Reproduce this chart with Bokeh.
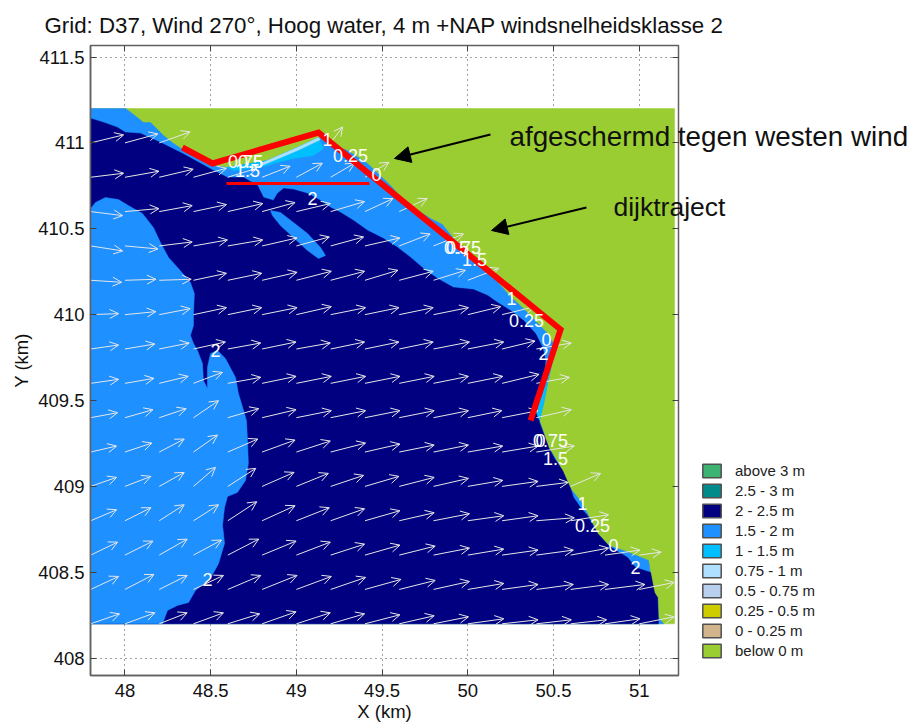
from bokeh.plotting import figure
from bokeh.embed import file_html
from bokeh.resources import INLINE
from bokeh.core.properties import value
from bokeh.layouts import column
from bokeh.models import (Range1d, FixedTicker, LinearAxis, Legend, LegendItem, Label, Arrow,
                          OpenHead, NormalHead, ColumnDataSource, Title)

FONT = "Liberation Sans"
_ = None
NAN = float("nan")

title_text = "Grid: D37, Wind 270°, Hoog water, 4 m +NAP windsnelheidsklasse 2"
x_ticks = [48, 48.5, 49, 49.5, 50, 50.5, 51]
x_tick_labels = ["48", "48.5", "49", "49.5", "50", "50.5", "51"]
y_ticks = [408, 408.5, 409, 409.5, 410, 410.5, 411, 411.5]
y_tick_labels = ["408", "408.5", "409", "409.5", "410", "410.5", "411", "411.5"]

class_labels = ["above 3 m", "2.5 - 3 m", "2 - 2.5 m", "1.5 - 2 m", "1 - 1.5 m",
                "0.75 - 1 m", "0.5 - 0.75 m", "0.25 - 0.5 m", "0 - 0.25 m", "below 0 m"]
class_colors = ["#3CB371", "#008B8B", "#000080", "#1E90FF", "#00BFFF",
                "#B0E0FF", "#B8CFEE", "#CCCC00", "#D2B48C", "#9ACD32"]

land_x = [47.8, 51.206, 51.206, 47.8]
land_y = [411.2, 411.2, 408.2, 408.2]

coast_x = [48.003, 48.050, 48.108, 48.149, 48.225, 48.283, 48.336, 48.511, 48.598, 48.831, 49.006, 49.129,
           49.216, 49.298, 49.415, 49.549, 49.637, 49.782, 49.852, 49.917, 50.132, 50.232, 50.348, 50.465,
           50.500, 50.494, 50.471, 50.442, 50.418, 50.442, 50.471, 50.512, 50.553, 50.599, 50.669, 50.704,
           50.757, 50.821, 50.908, 51.054, 51.066, 51.077, 51.107, 51.112, 51.142, 47.8, 47.8]
coast_y = [411.200, 411.165, 411.119, 411.119, 411.043, 410.996, 410.962, 410.868, 410.857, 410.897, 410.973, 411.031,
           410.985, 410.956, 410.880, 410.752, 410.653, 410.560, 410.525, 410.443, 410.240, 410.123, 410.012, 409.890,
           409.832, 409.733, 409.628, 409.483, 409.384, 409.314, 409.227, 409.162, 409.081, 408.988, 408.900, 408.831,
           408.726, 408.656, 408.627, 408.569, 408.493, 408.377, 408.353, 408.237, 408.2, 408.2, 411.2]

navy_x = [47.8, 47.875, 47.956, 48.003, 48.091, 48.207, 48.336, 48.516, 48.598, 48.692, 48.773, 48.808, 48.866,
          48.890, 48.925, 48.983, 49.065, 49.141, 49.199, 49.257, 49.333, 49.415, 49.508, 49.590, 49.666, 49.741,
          49.823, 49.916, 50.033, 50.115, 50.173, 50.249, 50.325, 50.395, 50.436, 50.453, 50.442, 50.412, 50.418,
          50.442, 50.471, 50.506, 50.553, 50.599, 50.617, 50.657, 50.698, 50.757, 50.821, 50.873, 50.932, 50.978,
          51.066, 51.089, 51.107, 51.112, 47.8]
navy_y = [411.142, 411.119, 411.090, 411.060, 411.055, 411.002, 410.938, 410.839, 410.798, 410.798, 410.752, 410.682,
          410.665, 410.705, 410.734, 410.729, 410.705, 410.665, 410.624, 410.595, 410.548, 410.490, 410.443, 410.391,
          410.333, 410.269, 410.210, 410.158, 410.146, 410.112, 410.071, 410.024, 409.966, 409.890, 409.809, 409.733,
          409.599, 409.442, 409.372, 409.308, 409.227, 409.162, 409.093, 408.988, 408.935, 408.877, 408.831, 408.726,
          408.656, 408.621, 408.586, 408.528, 408.499, 408.382, 408.353, 408.2, 408.2]

shoal_x = [48.219, 48.248, 48.306, 48.371, 48.411, 48.499, 48.546, 48.581, 48.575, 48.569, 48.581, 48.598, 48.656,
           48.703, 48.720, 48.715, 48.709, 48.662, 48.645, 48.586, 48.540, 48.499, 48.481, 48.481, 48.458, 48.452,
           48.423, 48.400, 48.382, 48.400, 48.400, 48.405, 48.382, 48.312, 48.254, 48.207, 48.166, 48.102, 48.020,
           47.962, 47.886, 47.828, 47.8, 47.8]
shoal_y = [408.2, 408.278, 408.307, 408.324, 408.394, 408.464, 408.551, 408.668, 408.726, 408.772, 408.877, 408.941,
           408.965, 409.034, 409.133, 409.267, 409.384, 409.541, 409.634, 409.745, 409.791, 409.774, 409.692, 409.570,
           409.617, 409.716, 409.791, 409.832, 409.879, 409.937, 410.007, 410.123, 410.187, 410.269, 410.333, 410.420,
           410.507, 410.589, 410.635, 410.670, 410.682, 410.653, 410.618, 408.2]

island_x = [48.849, 48.907, 48.983, 49.065, 49.141, 49.170, 49.129, 49.065, 48.983, 48.907, 48.860]
island_y = [410.606, 410.595, 410.536, 410.472, 410.391, 410.344, 410.327, 410.373, 410.449, 410.519, 410.577]

wedge_x = [49.129, 49.158, 49.100, 48.983, 48.890, 48.791, 48.715, 48.633, 48.598, 48.831, 49.006]
wedge_y = [411.031, 410.967, 410.927, 410.909, 410.886, 410.857, 410.851, 410.839, 410.857, 410.897, 410.973]

pale_x = [48.791, 49.006, 49.129, 49.138, 49.006, 48.802]
pale_y = [410.880, 410.973, 411.031, 411.018, 410.955, 410.870]

strip_x = [50.494, 50.471, 50.442, 50.418, 50.400, 50.430, 50.453, 50.477]
strip_y = [409.733, 409.628, 409.483, 409.384, 409.430, 409.541, 409.646, 409.745]

dike_x = [48.335, 48.511, 49.129, 50.541, 50.366]
dike_y = [410.973, 410.880, 411.060, 409.914, 409.384]
sheltered_x = [48.592, 49.426]
sheltered_y = [410.764, 410.764]

arrow_columns = [47.8, 48.0, 48.2, 48.4, 48.6, 48.8, 49.0, 49.2, 49.4, 49.6, 49.8, 50.0, 50.2, 50.4, 50.6, 50.8, 51.0]
arrow_rows = [411.0, 410.8, 410.6, 410.4, 410.2, 410.0, 409.8, 409.6, 409.4, 409.2, 409.0, 408.8, 408.6, 408.4, 408.2]
arrow_u = [
    [33, 33, 31, _, _, _, _, 12, _, _, _, _, _, _, _, _, _],
    [33, 34, 34, 33, 29, 28, 26, 24, 24, _, _, _, _, _, _, _, _],
    [32, 34, 33, 33, 35, 33, 34, 34, 28, 28, _, _, _, _, _, _, _],
    [32, 33, 33, 34, 35, 35, 33, 33, 35, 31, 30, _, _, _, _, _, _],
    [31, 31, 32, 33, 34, 35, 35, 34, 33, 34, 32, 31, _, _, _, _, _],
    [28, 31, 31, 33, 34, 35, 35, 35, 34, 34, 35, 33, 33, _, _, _, _],
    [28, 30, 30, 32, 33, 34, 34, 34, 34, 34, 36, 36, 33, 35, _, _, _],
    [28, 29, 29, 29, 33, 34, 35, 35, 35, 35, 35, 35, 37, 33, _, _, _],
    [27, 28, 27, 25, 31, 34, 35, 35, 35, 35, 35, 34, 36, 35, _, _, _],
    [26, 27, 25, 24, 30, 33, 34, 35, 35, 35, 35, 35, 36, 38, _, _, _],
    [26, 26, 25, 22, 28, 32, 32, 33, 34, 35, 35, 35, 36, 32, 30, _, _],
    [26, 26, 25, 25, 29, 33, 33, 34, 35, 35, 36, 36, 36, 38, 38, _, _],
    [27, 28, 28, 28, 31, 34, 34, 34, 35, 36, 36, 36, 36, 37, 38, 35, 22],
    [28, 29, 28, 30, 33, 35, 35, 35, 36, 36, 36, 36, 36, 37, 38, 40, 35],
    [29, 30, 28, 30, 32, 34, 34, 34, 35, 35, 35, 36, 36, 35, 36, 35, 35],
]
arrow_v = [
    [8, 9, 11, _, _, _, _, 16, _, _, _, _, _, _, _, _, _],
    [4, 6, 8, 9, 9, 11, 14, 14, 15, _, _, _, _, _, _, _, _],
    [-4, 3, 6, 7, 8, 9, 8, 10, 13, 13, _, _, _, _, _, _, _],
    [-5, -3, 4, 6, 6, 8, 9, 9, 8, 12, 12, _, _, _, _, _, _],
    [-2, 1, 1, 7, 7, 8, 9, 9, 10, 9, 10, 12, _, _, _, _, _],
    [1, 3, 6, 7, 7, 7, 8, 7, 7, 7, 7, 8, 8, _, _, _, _],
    [4, 5, 6, 7, 6, 7, 6, 7, 7, 7, 7, 7, 8, 6, _, _, _],
    [4, 5, 7, 11, 6, 7, 7, 7, 7, 7, 7, 7, 9, 6, _, _, _],
    [5, 8, 9, 17, 9, 8, 7, 7, 7, 7, 7, 7, 7, 8, _, _, _],
    [6, 9, 13, 17, 13, 12, 11, 9, 8, 7, 7, 6, 6, 6, _, _, _],
    [9, 10, 14, 19, 18, 14, 13, 11, 10, 9, 8, 6, 5, 4, 13, _, _],
    [11, 13, 16, 16, 19, 15, 13, 12, 10, 8, 7, 5, 5, 3, 6, _, _],
    [13, 14, 16, 15, 16, 14, 13, 11, 10, 9, 7, 6, 5, 5, 7, 5, 3],
    [13, 15, 14, 14, 14, 14, 13, 12, 10, 9, 8, 6, 5, 5, 5, 5, 7],
    [10, 11, 11, 11, 10, 12, 11, 10, 9, 8, 7, 5, 4, 4, 4, 5, 7],
]
ARROW_KM_PER_UNIT = 1 / 171.5

contour_text = ["1", "0.25", "0", "0.75", "0.5", "1.5", "2", "2", "0.75", "0.5", "1.5", "1", "0.25", "0", "2",
                "0", "0.75", "1.5", "1", "0.25", "0", "2", "2"]
contour_x = [49.182, 49.316, 49.467, 48.703, 48.732, 48.715, 49.094, 48.528, 49.975, 49.934, 50.039, 50.255, 50.342,
             50.459, 50.442, 50.424, 50.483, 50.512, 50.669, 50.727, 50.850, 50.978, 48.481]
contour_y = [411.020, 410.927, 410.816, 410.892, 410.892, 410.839, 410.676, 409.791, 410.391, 410.391, 410.321, 410.094,
             409.966, 409.855, 409.774, 409.267, 409.267, 409.162, 408.900, 408.773, 408.656, 408.528, 408.458]

note_text = ["afgeschermd tegen westen wind", "dijktraject"]
note_x = [50.243, 50.850]
note_y = [411.035, 410.624]
note_sizes = ["27.8px", "26.5px"]
pointer_start_x = [50.132, 50.692]
pointer_start_y = [411.049, 410.624]
pointer_end_x = [49.572, 50.138]
pointer_end_y = [410.909, 410.490]

p = figure(width=912, height=725, output_backend="svg", toolbar_location=None,
           x_range=Range1d(47.799, 51.229), y_range=Range1d(407.899, 411.567),
           min_border_left=90, min_border_right=234, min_border_top=45, min_border_bottom=50,
           background_fill_color="white", border_fill_color="white",
           outline_line_color="#606060", outline_line_width=1.5,
           x_axis_label="X (km)", y_axis_label="Y (km)", frame_align=False)

p.title = Title(text=title_text, text_font=FONT, text_font_size="22.3px", text_font_style="normal",
                text_color="#111111", align="left", offset=-46, standoff=15)

for ax, ticks, labels in ((p.xaxis[0], x_ticks, x_tick_labels), (p.yaxis[0], y_ticks, y_tick_labels)):
    ax.ticker = FixedTicker(ticks=ticks)
    ax.major_label_overrides = {t: l for t, l in zip(ticks, labels)}
    ax.major_label_text_font = FONT
    ax.major_label_text_font_size = "18.5px"
    ax.major_label_text_color = "#111111"
    ax.axis_label_text_font = FONT
    ax.axis_label_text_font_size = "18.5px"
    ax.axis_label_text_font_style = "normal"
    ax.axis_label_text_color = "#111111"
    ax.major_tick_in = 6
    ax.major_tick_out = 0
    ax.minor_tick_line_color = None
    ax.axis_line_color = "#606060"
    ax.axis_line_width = 1.5
    ax.major_tick_line_color = "#404040"
p.xaxis[0].major_label_standoff = 8
p.xaxis[0].axis_label_standoff = 1
p.yaxis[0].major_label_standoff = 6
p.yaxis[0].axis_label_standoff = 3

top_axis = LinearAxis(ticker=FixedTicker(ticks=x_ticks), major_label_overrides={t: "" for t in x_ticks},
                      major_label_standoff=0, major_tick_in=6, major_tick_out=0, minor_tick_line_color=None,
                      axis_line_color=None, major_tick_line_color="#404040")
right_axis = LinearAxis(ticker=FixedTicker(ticks=y_ticks), major_label_overrides={t: "" for t in y_ticks},
                        major_label_standoff=0, major_tick_in=6, major_tick_out=0, minor_tick_line_color=None,
                        axis_line_color=None, major_tick_line_color="#404040")
p.add_layout(top_axis, "above")
p.add_layout(right_axis, "right")

p.xgrid.ticker = FixedTicker(ticks=x_ticks)
p.ygrid.ticker = FixedTicker(ticks=y_ticks)
for g in (p.xgrid[0], p.ygrid[0]):
    g.grid_line_color = "#404040"
    g.grid_line_dash = "1 4"
    g.grid_line_width = 1
    g.level = "image"

def area(xs, ys, color):
    p.patch(xs, ys, fill_color=color, line_color=color, line_width=0.5, level="underlay")

BELOW, NAVY, BLUE, BRIGHT, PALE = class_colors[9], class_colors[2], class_colors[3], class_colors[4], class_colors[5]
area(land_x, land_y, BELOW)
area(coast_x, coast_y, BLUE)
area(navy_x, navy_y, NAVY)
area(shoal_x, shoal_y, BLUE)
area(island_x, island_y, BLUE)
area(wedge_x, wedge_y, BRIGHT)
area(pale_x, pale_y, PALE)
area(strip_x, strip_y, BRIGHT)

xs0, ys0, xs1, ys1 = [], [], [], []
for row_y, us, vs in zip(arrow_rows, arrow_u, arrow_v):
    for col_x, u, v in zip(arrow_columns, us, vs):
        if u is None:
            continue
        xs0.append(col_x)
        ys0.append(row_y)
        xs1.append(col_x + u * ARROW_KM_PER_UNIT)
        ys1.append(row_y + v * ARROW_KM_PER_UNIT)
wind = ColumnDataSource(dict(x0=xs0, y0=ys0, x1=xs1, y1=ys1))
p.add_layout(Arrow(source=wind, x_start="x0", y_start="y0", x_end="x1", y_end="y1",
                   line_color="#e6e6e6", line_width=1, level="underlay",
                   end=OpenHead(size=9, line_color="#e6e6e6", line_width=1)))

p.line(dike_x, dike_y, line_color="#FF0000", line_width=6, line_join="miter")
p.line(sheltered_x, sheltered_y, line_color="#FF0000", line_width=3)

p.text(contour_x, contour_y, text=contour_text, text_color="white", text_font=value(FONT),
       text_font_size=value("18px"), text_align="center", text_baseline="middle")

for x0, y0, x1, y1 in zip(pointer_start_x, pointer_start_y, pointer_end_x, pointer_end_y):
    p.add_layout(Arrow(x_start=x0, y_start=y0, x_end=x1, y_end=y1, line_color="black", line_width=2,
                       end=NormalHead(size=16, fill_color="black", line_color="black")))

# A transparent figure over the whole page, on the same km scale, for what lies outside the axes box
over = figure(width=912, height=725, output_backend="svg", toolbar_location=None,
              x_range=Range1d(47.2737, 52.5945), y_range=Range1d(407.608, 411.829),
              x_axis_type=None, y_axis_type=None, min_border=0, outline_line_color=None,
              background_fill_alpha=0, border_fill_alpha=0, margin=(-725, 0, 0, 0), frame_align=False)

for t, x, y, s in zip(note_text, note_x, note_y, note_sizes):
    over.add_layout(Label(x=x, y=y, text=t, text_font=FONT, text_font_size=s, text_color="#111111",
                          text_baseline="alphabetic"))

items = []
for lab, col in zip(class_labels, class_colors):
    r = over.quad(left=[NAN], right=[NAN], top=[NAN], bottom=[NAN], fill_color=col, line_color="#505050", line_width=1.5)
    items.append(LegendItem(label=lab, renderers=[r]))
legend = Legend(items=items, location=(700, 66), orientation="vertical", glyph_width=23, glyph_height=17,
                label_height=17, spacing=3, padding=0, margin=0, label_standoff=12, border_line_color=None,
                background_fill_color=None, background_fill_alpha=0, label_text_font=FONT,
                label_text_font_size="15px", label_text_color="#222222")
over.add_layout(legend, "center")

page = column(p, over, spacing=0)
open("out.html", "w").write(file_html(page, INLINE))
